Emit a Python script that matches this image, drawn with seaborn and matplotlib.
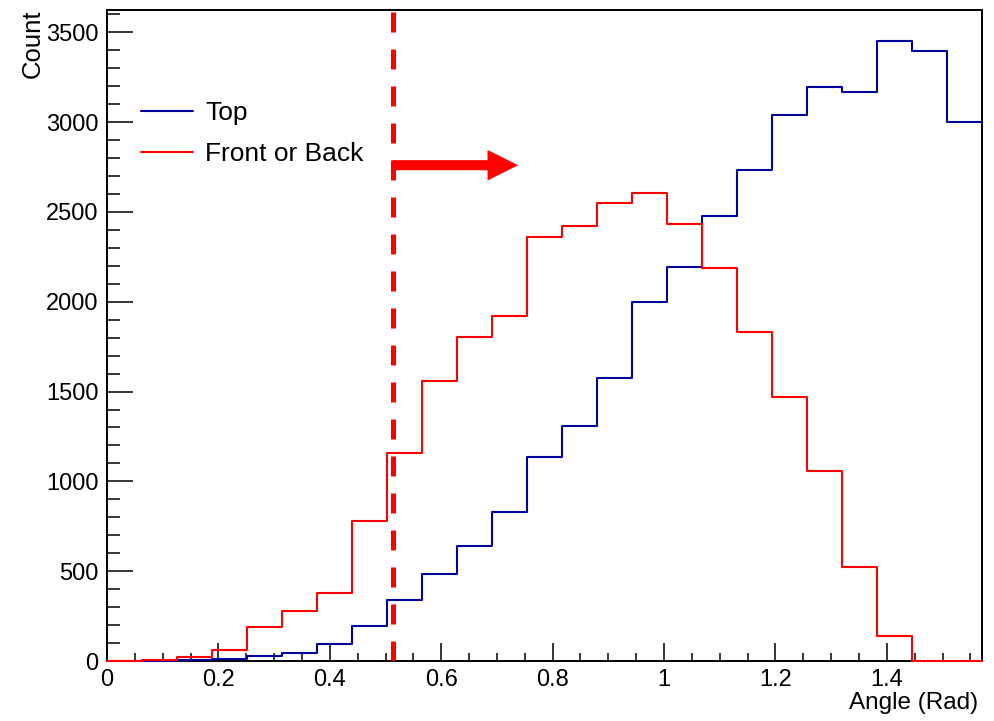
import numpy as np
import pandas as pd
import matplotlib
matplotlib.use("Agg")
import matplotlib.pyplot as plt
from matplotlib.lines import Line2D
from matplotlib.ticker import MultipleLocator, FuncFormatter
import seaborn as sns

# histogram contents, 25 bins over 0..pi/2
top_counts = [0, 0, 8, 10, 30, 43, 95, 193, 340, 487, 641, 827, 1137,
              1306, 1577, 1997, 2195, 2475, 2733, 3037, 3195, 3167, 3452, 3394, 3000]
front_back_counts = [0, 4, 20, 62, 188, 277, 381, 779, 1157, 1560, 1802, 1919, 2359,
                     2419, 2551, 2605, 2434, 2185, 1830, 1470, 1059, 524, 139, 0, 0]
series_labels = ["Top", "Front or Back"]
cut_angle = 0.513
arrow_end = 0.738
arrow_y = 2760

n_bins = len(top_counts)
edges = np.linspace(0, np.pi / 2, n_bins + 1)
centers = 0.5 * (edges[:-1] + edges[1:])

df_top = pd.DataFrame({"angle": centers, "count": top_counts})
df_fb = pd.DataFrame({"angle": centers, "count": front_back_counts})

sns.set_style("ticks")
plt.rcParams["font.family"] = ["Liberation Sans", "DejaVu Sans"]
plt.rcParams["text.color"] = "black"
plt.rcParams["axes.labelcolor"] = "black"

blue = "#00009a"
red = "#ff0000"

fig = plt.figure(figsize=(9.95, 7.21), dpi=100)
ax = fig.add_axes([107 / 995, 60 / 721, 875 / 995, 651 / 721])

sns.histplot(data=df_top, x="angle", weights="count", bins=n_bins, binrange=(0, np.pi / 2),
             element="step", fill=False, color=blue, linewidth=1.5, ax=ax)
sns.histplot(data=df_fb, x="angle", weights="count", bins=n_bins, binrange=(0, np.pi / 2),
             element="step", fill=False, color=red, linewidth=1.5, ax=ax)
# draw histogram outlines on top of the frame, like ROOT does
for ln in ax.lines:
    ln.set_zorder(3)
    ln.set_clip_on(False)

ax.set_xlim(0, np.pi / 2)
ax.set_ylim(0, 3624)

# cut line and arrow
ax.axvline(cut_angle, color=red, lw=3.6, linestyle=(0, (4, 3.4)), zorder=3)
ax.annotate("", xy=(arrow_end, arrow_y), xytext=(cut_angle, arrow_y),
            arrowprops=dict(arrowstyle="simple,head_length=1,head_width=1,tail_width=0.33",
                            mutation_scale=22, color=red, shrinkA=0, shrinkB=0, lw=0))

# ROOT-like axes
for s in ax.spines.values():
    s.set_linewidth(1.4)
    s.set_color("black")
ax.xaxis.set_major_locator(MultipleLocator(0.2))
ax.xaxis.set_minor_locator(MultipleLocator(0.05))
ax.yaxis.set_major_locator(MultipleLocator(500))
ax.yaxis.set_minor_locator(MultipleLocator(100))
ax.xaxis.set_major_formatter(FuncFormatter(lambda v, p: f"{v:g}"))
ax.yaxis.set_major_formatter(FuncFormatter(lambda v, p: f"{v:g}"))
ax.tick_params(axis="both", which="both", direction="in", top=False, right=False,
               labelsize=17, width=1.1, colors="black")
ax.tick_params(axis="x", which="major", length=13, pad=6)
ax.tick_params(axis="x", which="minor", length=6)
ax.tick_params(axis="y", which="major", length=19, pad=6)
ax.tick_params(axis="y", which="minor", length=9.5)

ax.set_xlabel("Angle (Rad)", fontsize=17.5, loc="right")
ax.set_ylabel("Count", fontsize=18.5, loc="top")
ax.xaxis.set_label_coords(0.996, -0.048)
ax.yaxis.set_label_coords(-0.071, 1.0)

handles = [Line2D([], [], color=blue, lw=1.5), Line2D([], [], color=red, lw=1.5)]
ax.legend(handles, series_labels, loc="upper left", bbox_to_anchor=(0.0384, 0.8605),
          frameon=False, fontsize=19, handlelength=2.0, handletextpad=0.45,
          labelspacing=0.67, borderpad=0, borderaxespad=0)

fig.savefig("out.png", dpi=100)
